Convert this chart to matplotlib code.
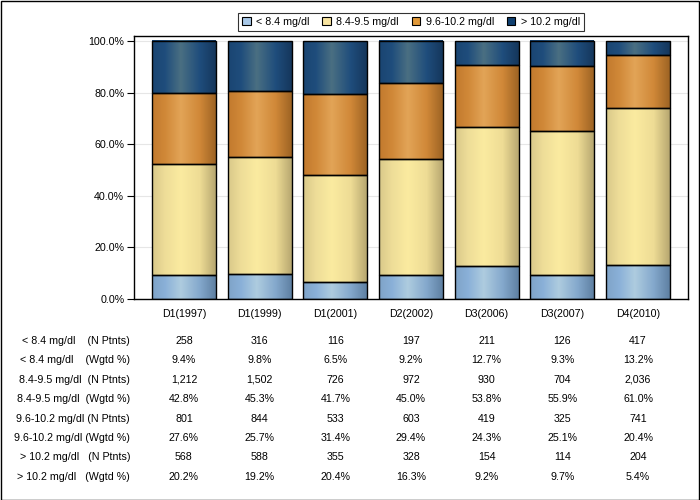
import numpy as np
import matplotlib
matplotlib.use("Agg")
from matplotlib import pyplot as plt
from matplotlib.patches import Patch, Rectangle
from matplotlib.colors import to_rgb

plt.rcParams['font.family'] = ['Liberation Sans', 'DejaVu Sans']

# データ
categories = ["D1(1997)", "D1(1999)", "D1(2001)", "D2(2002)", "D3(2006)", "D3(2007)", "D4(2010)"]
series_names = ["< 8.4 mg/dl", "8.4-9.5 mg/dl", "9.6-10.2 mg/dl", "> 10.2 mg/dl"]

pct_lt84 = [9.4, 9.8, 6.5, 9.2, 12.7, 9.3, 13.2]
pct_84_95 = [42.8, 45.3, 41.7, 45.0, 53.8, 55.9, 61.0]
pct_96_102 = [27.6, 25.7, 31.4, 29.4, 24.3, 25.1, 20.4]
pct_gt102 = [20.2, 19.2, 20.4, 16.3, 9.2, 9.7, 5.4]

n_lt84 = [258, 316, 116, 197, 211, 126, 417]
n_84_95 = [1212, 1502, 726, 972, 930, 704, 2036]
n_96_102 = [801, 844, 533, 603, 419, 325, 741]
n_gt102 = [568, 588, 355, 328, 154, 114, 204]

row_labels = [
    "< 8.4 mg/dl    (N Ptnts)",
    "< 8.4 mg/dl    (Wgtd %)",
    "8.4-9.5 mg/dl  (N Ptnts)",
    "8.4-9.5 mg/dl  (Wgtd %)",
    "9.6-10.2 mg/dl (N Ptnts)",
    "9.6-10.2 mg/dl (Wgtd %)",
    "> 10.2 mg/dl   (N Ptnts)",
    "> 10.2 mg/dl   (Wgtd %)",
]

# グラデーション用の色 (左端, 左, 中央, 右, 右端)
grad_stops = [0.0, 0.2, 0.45, 0.75, 1.0]
grad_colors = [
    ["#7FA3C8", "#8AB0D8", "#AECCDF", "#84A8CC", "#5F81A3"],
    ["#D9C98A", "#EEDD98", "#FBEBA0", "#EEDC95", "#B8A871"],
    ["#C27A2E", "#D08838", "#E2A457", "#D08838", "#9E6424"],
    ["#1A4572", "#1F4D7C", "#4A6F82", "#1F4D7C", "#15375C"],
]
legend_colors = ["#A8C8E8", "#F8E4A0", "#E09838", "#104070"]


def gradient(stops_hex, n=64):
    t = np.linspace(0, 1, n)
    rgb = np.array([to_rgb(c) for c in stops_hex])
    img = np.stack([np.interp(t, grad_stops, rgb[:, k]) for k in range(3)], axis=-1)
    return img[np.newaxis, :, :]


fig = plt.figure(figsize=(7, 5), dpi=100)
ax = fig.add_axes([134 / 700, 1 - 299 / 500, 554 / 700, 263 / 500])

x = np.arange(len(categories))
width = 0.845
values = [pct_lt84, pct_84_95, pct_96_102, pct_gt102]
bottom = np.zeros(len(categories))
for vals, cols in zip(values, grad_colors):
    img = gradient(cols)
    for i, v in enumerate(vals):
        x0 = x[i] - width / 2
        ax.imshow(img, extent=[x0, x0 + width, bottom[i], bottom[i] + v],
                  aspect='auto', interpolation='bilinear', zorder=2)
        ax.add_patch(Rectangle((x0, bottom[i]), width, v, fill=False,
                               edgecolor="black", linewidth=1.0, zorder=3))
    bottom += np.array(vals)

ax.set_xlim(-0.66, len(categories) - 1 + 0.66)
ax.set_ylim(0, 101.94)
ax.set_yticks([0, 20, 40, 60, 80, 100])
ax.set_yticklabels([f"{v:.1f}%" for v in [0, 20, 40, 60, 80, 100]])
ax.set_xticks(x)
ax.set_xticklabels(categories)
ax.tick_params(axis="y", length=5, width=0.8, pad=2, labelsize=7.7)
ax.tick_params(axis="x", length=0, pad=7, labelsize=7.7)
ax.grid(axis="y", color="#E6E6E6", linewidth=0.8, zorder=0)
ax.set_axisbelow(True)
for sp in ax.spines.values():
    sp.set_linewidth(1.0)

# 凡例
handles = [Patch(facecolor=c, edgecolor="black", linewidth=0.8) for c in legend_colors]
leg = fig.legend(handles, series_names, loc="upper center", bbox_to_anchor=(411 / 700, 1 - 8 / 500),
                 ncol=4, fontsize=7.7, frameon=True, fancybox=False, handlelength=0.8,
                 handleheight=0.8, handletextpad=0.5, columnspacing=1.2, borderpad=0.35)
leg.get_frame().set_edgecolor("black")
leg.get_frame().set_linewidth(0.8)

# 表
rows = []
for p, n in zip(values, [n_lt84, n_84_95, n_96_102, n_gt102]):
    rows.append([f"{v:,}" for v in n])
    rows.append([f"{v:.1f}%" for v in p])

row_y0 = 341
row_step = 19.4
for r, (label, row) in enumerate(zip(row_labels, rows)):
    yy = 1 - (row_y0 + r * row_step) / 500
    fig.text(130 / 700, yy, label, ha="right", va="center", fontsize=7.7)
    for i, s in enumerate(row):
        xd = ax.transData.transform((x[i], 0))[0]
        xf = fig.transFigure.inverted().transform((xd, 0))[0]
        fig.text(xf, yy, s, ha="center", va="center", fontsize=7.7)

# 外枠
fig.patches.append(Rectangle((0.001, 0.001), 0.997, 0.997, transform=fig.transFigure,
                             fill=False, edgecolor="black", linewidth=1.0))

fig.savefig("out.png", dpi=100)
